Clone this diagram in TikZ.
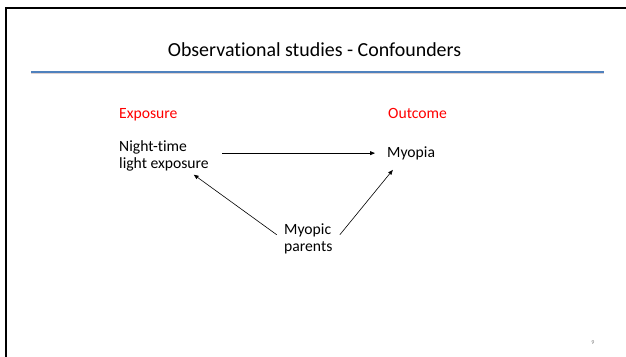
\documentclass[tikz,border=0pt]{standalone}
\usepackage{fontspec}
\setmainfont{Carlito}[Ligatures=NoCommon]
\usetikzlibrary{arrows.meta,calc}
\definecolor{rulerblue}{RGB}{79,129,189}
\definecolor{rulershade}{RGB}{222,210,210}
\begin{document}
\begin{tikzpicture}[x=1bp,y=-1bp,
  every node/.style={inner sep=0pt, font=\fontsize{15.7}{17}\selectfont},
  redtag/.style={text=red, anchor=base west},
  term/.style={anchor=base west, align=left},
  arr/.style={-{Triangle[length=4.8bp,width=3.8bp]}, line width=0.6bp},
]
\useasboundingbox (0,0) rectangle (626,356);
\fill[white] (0,0) rectangle (626,356);
% slide frame: left and top edges only
\draw[line width=2.4bp] (6,357) -- (6,8) -- (627,8);
% title and rule beneath it
\node[font=\fontsize{20}{24}\selectfont, anchor=base] (title) at (314.5,56) {Observational studies - Confounders};
\draw[rulershade, line width=1.2bp] (31,73.8) -- (604,73.8);
\draw[rulerblue, line width=1.6bp] (31,72) -- (604,72);
% column headings
\node[redtag] (expo) at (119,118.3) {Exposure};
\node[redtag] (outc) at (388,118.3) {Outcome};
% variables
\node[term, anchor=north west] (nl) at (119,140) {Night-time\\light exposure};
\node[term] (my) at (387,157) {Myopia};
\node[term, anchor=north west] (mp) at (284,223.5) {Myopic\\parents};
% causal arrows
\draw[arr] ($(nl.east)+(13.5,-2.3)$) -- ($(my.west |- nl.east)+(-12,-2.3)$);
\draw[arr] ($(mp.west)+(-7.3,-4.1)$) -- ($(nl.south)+(29.8,3.8)$);
\draw[arr] ($(mp.east)+(7.3,-4.1)$) -- ($(my.south)+(-18.3,10.2)$);
% slide number
\node[text=gray, font=\fontsize{6}{7}\selectfont] (pg) at (593,343) {9};
\end{tikzpicture}
\end{document}
